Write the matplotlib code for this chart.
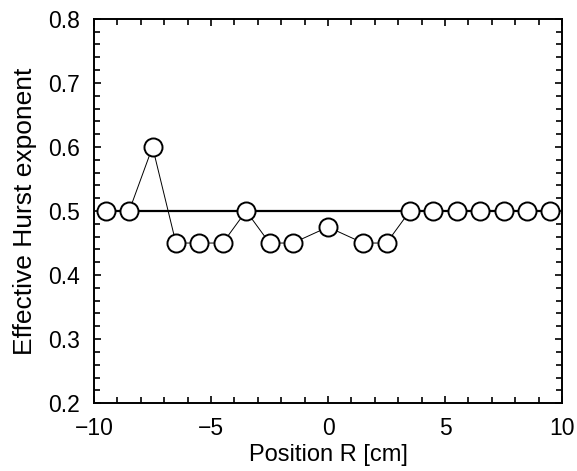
import matplotlib
matplotlib.use("Agg")
import matplotlib.pyplot as plt
from matplotlib.ticker import MultipleLocator

plt.rcParams['font.family'] = ['Liberation Sans', 'DejaVu Sans']

positions = [-9.5, -8.5, -7.5, -6.5, -5.5, -4.5, -3.5, -2.5, -1.5, 0.0,
             1.5, 2.5, 3.5, 4.5, 5.5, 6.5, 7.5, 8.5, 9.5]
hurst = [0.5, 0.5, 0.6, 0.45, 0.45, 0.45, 0.5, 0.45, 0.45, 0.475,
         0.45, 0.45, 0.5, 0.5, 0.5, 0.5, 0.5, 0.5, 0.5]
ref_x = [-9.5, 9.5]
ref_y = [0.5, 0.5]

fig = plt.figure(figsize=(5.77, 4.71), dpi=100)
ax = fig.add_axes([0.163, 0.144, 0.811, 0.816])

ax.plot(ref_x, ref_y, color='black', lw=1.6, zorder=2)
ax.plot(positions, hurst, color='black', lw=0.7, marker='o', markersize=13,
        markerfacecolor='white', markeredgecolor='black', markeredgewidth=1.4, zorder=3)

ax.set_xlim(-10, 10)
ax.set_ylim(0.2, 0.8)
ax.xaxis.set_major_locator(MultipleLocator(5))
ax.xaxis.set_minor_locator(MultipleLocator(1))
ax.yaxis.set_major_locator(MultipleLocator(0.1))
ax.yaxis.set_minor_locator(MultipleLocator(0.02))
ax.tick_params(which='both', direction='in', top=True, right=True, width=1.2, labelsize=16.5)
ax.tick_params(which='major', length=5)
ax.tick_params(which='minor', length=4.5)
ax.tick_params(axis='x', which='both', pad=10)
ax.tick_params(axis='y', which='both', pad=10)
for s in ax.spines.values():
    s.set_linewidth(1.4)

ax.set_xlabel('Position R [cm]', fontsize=17, labelpad=3)
ax.set_ylabel('Effective Hurst exponent', fontsize=19, labelpad=8)

fig.savefig('out.png', dpi=100)
